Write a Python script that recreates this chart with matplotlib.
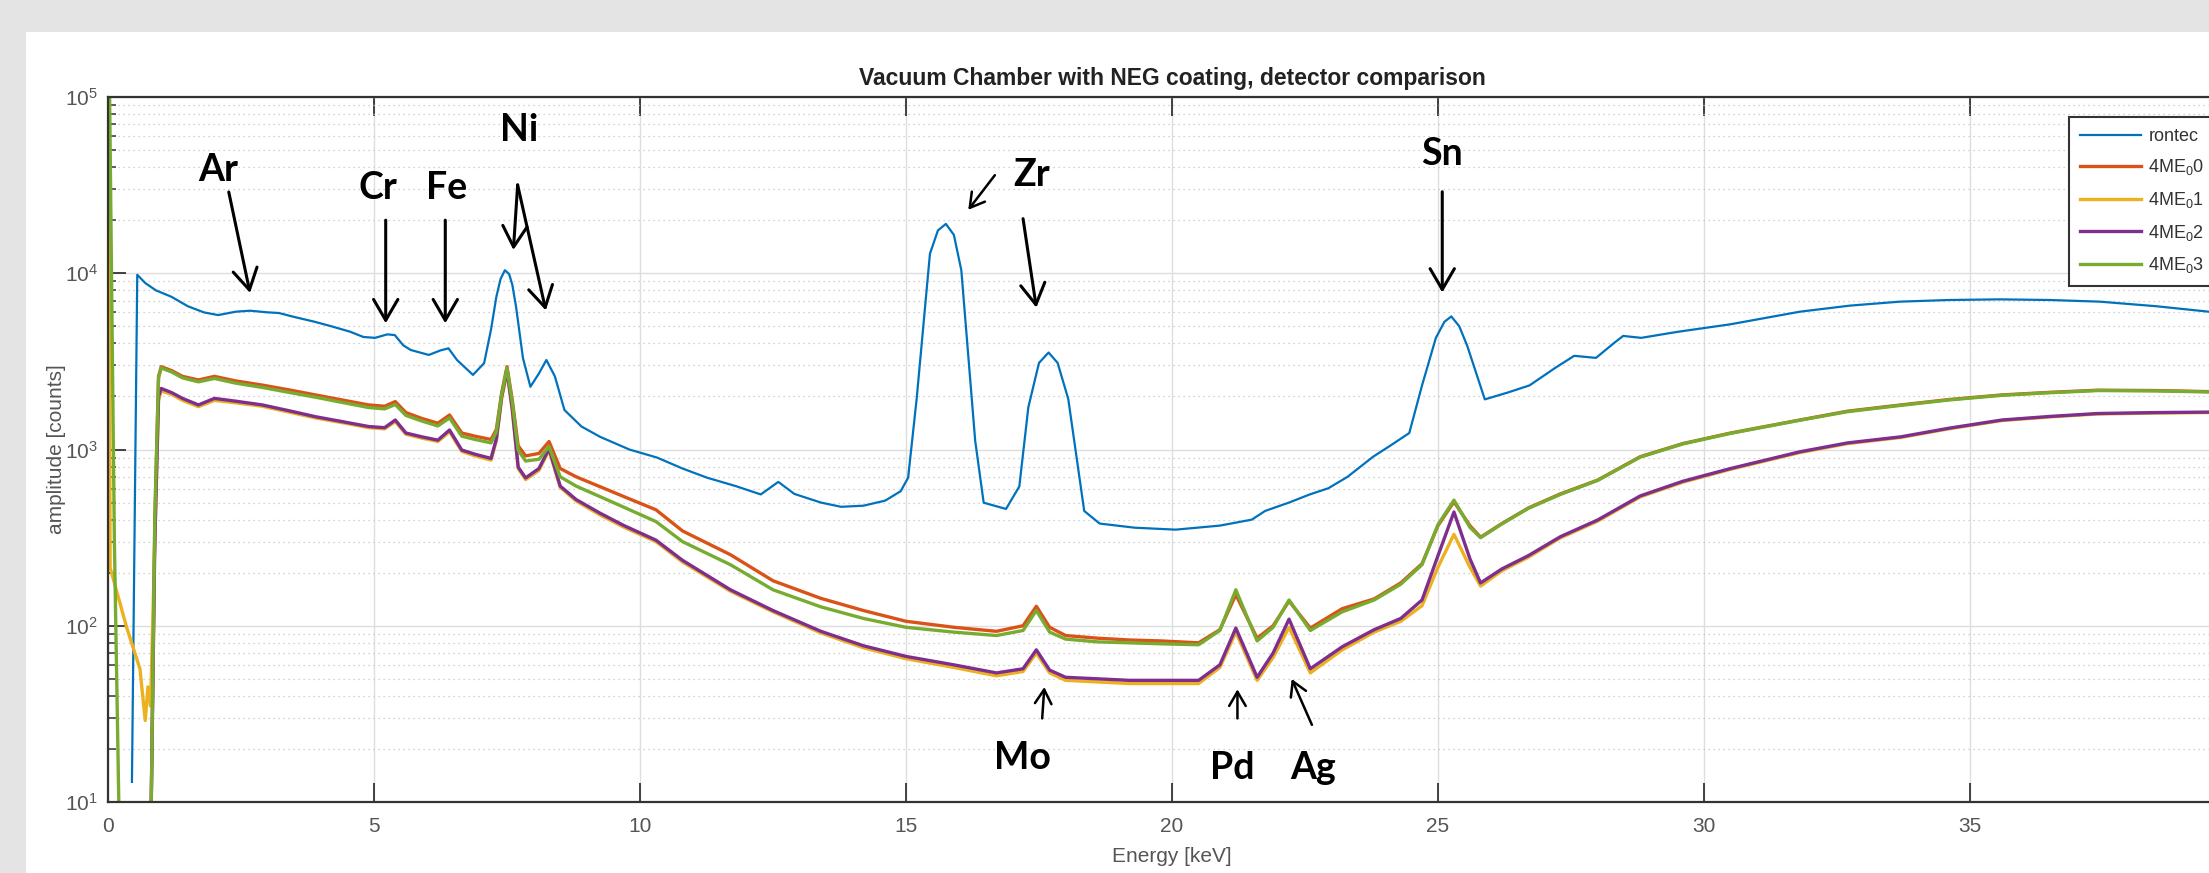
import matplotlib.pyplot as plt
from matplotlib.patches import Rectangle
from matplotlib.ticker import LogLocator, NullLocator, NullFormatter

plt.rcParams['font.family'] = ['Liberation Sans', 'DejaVu Sans']
plt.rcParams['mathtext.fontset'] = 'custom'
plt.rcParams['mathtext.rm'] = 'Liberation Sans'
plt.rcParams['mathtext.it'] = 'Liberation Sans:italic'

# --- data (energy in keV, amplitude in counts) ---
rontec_e = [0.45, 0.55, 0.7, 0.9, 1.19, 1.5, 1.8, 2.07, 2.4, 2.67, 3.0, 3.21, 3.5, 3.88,
            4.2, 4.55, 4.8, 5.02, 5.25, 5.39, 5.55, 5.69, 6.03, 6.25, 6.40, 6.56, 6.86,
            7.07, 7.20, 7.30, 7.38, 7.46, 7.54, 7.60, 7.67, 7.8, 7.94, 8.1, 8.24, 8.4,
            8.58, 8.9, 9.25, 9.8, 10.32, 10.8, 11.26, 11.8, 12.27, 12.6, 12.9, 13.4,
            13.78, 14.2, 14.61, 14.9, 15.04, 15.2, 15.45, 15.6, 15.75, 15.9, 16.04,
            16.3, 16.46, 16.88, 17.13, 17.30, 17.5, 17.68, 17.85, 18.05, 18.35, 18.64,
            19.3, 20.07, 20.9, 21.5, 21.75, 22.2, 22.59, 22.94, 23.3, 23.78, 24.1,
            24.46, 24.7, 24.96, 25.12, 25.25, 25.4, 25.55, 25.88, 26.3, 26.72, 27.2,
            27.56, 27.97, 28.3, 28.48, 28.82, 29.5, 30.49, 31.8, 32.74, 33.68, 34.6,
            35.56, 36.5, 37.44, 38.5, 39.49, 40.0]
rontec_v = [13, 9800, 8800, 8000, 7360, 6500, 6000, 5790, 6050, 6130, 6000, 5950, 5650, 5310,
            5000, 4660, 4350, 4300, 4500, 4460, 3900, 3670, 3440, 3650, 3750, 3220, 2650,
            3090, 4800, 7360, 9300, 10400, 9900, 8600, 6460, 3300, 2270, 2700, 3220, 2600,
            1675, 1350, 1180, 1000, 900, 780, 692, 620, 556, 655, 560, 500,
            473, 480, 513, 580, 692, 1935, 12900, 17500, 19050, 16500, 10400,
            1125, 499, 460, 617, 1740, 3100, 3550, 3100, 1935, 448, 380,
            360, 351, 370, 400, 448, 500, 556, 603, 700, 910, 1050,
            1240, 2310, 4300, 5300, 5690, 5000, 3870, 1925, 2100, 2310, 2900,
            3400, 3310, 4000, 4410, 4300, 4650, 5130, 6050, 6550, 6900, 7050,
            7110, 7050, 6900, 6500, 6050, 5850]

me_e = [0.80, 0.88, 0.95, 1.0, 1.2, 1.4, 1.7, 2.0, 2.4, 2.9, 3.4, 3.9, 4.4, 4.9, 5.2, 5.4,
        5.6, 5.9, 6.2, 6.42, 6.65, 6.9, 7.2, 7.3, 7.4, 7.5, 7.6, 7.71, 7.85, 8.1, 8.29,
        8.5, 8.8, 9.25, 9.7, 10.3, 10.8, 11.7, 12.5, 13.4, 14.2, 15.0, 15.9, 16.7, 17.2,
        17.45, 17.7, 18.0, 18.6, 19.2, 19.8, 20.5, 20.9, 21.2, 21.6, 21.9, 22.2, 22.6,
        23.2, 23.8, 24.3, 24.7, 25.0, 25.3, 25.6, 25.8, 26.2, 26.7, 27.3, 28.0, 28.8,
        29.6, 30.5, 31.8, 32.7, 33.7, 34.6, 35.6, 36.5, 37.4, 38.5, 39.5, 40.0]
me0_v = [5, 400, 2600, 2950, 2800, 2600, 2480, 2600, 2450, 2320, 2180, 2040, 1910, 1790, 1760, 1870,
         1620, 1500, 1410, 1570, 1240, 1190, 1140, 1300, 2100, 2950, 1900, 1050, 920, 950, 1110,
         780, 700, 615, 540, 455, 345, 253, 180, 143, 122, 106, 98, 93, 100,
         129, 98, 88, 85, 83, 82, 80, 95, 150, 85, 100, 138, 97,
         125, 142, 175, 225, 370, 505, 370, 318, 380, 466, 560, 670, 910,
         1080, 1240, 1470, 1650, 1790, 1920, 2040, 2110, 2170, 2160, 2130, 2120]
me1_v = [35, 300, 1900, 2150, 2050, 1900, 1750, 1900, 1840, 1760, 1630, 1510, 1420, 1330, 1310, 1440,
         1220, 1160, 1110, 1260, 975, 920, 870, 1120, 1950, 2750, 1650, 780, 675, 760, 990,
         610, 510, 425, 362, 300, 230, 157, 120, 91, 75, 65, 58, 52, 55,
         70, 54, 49, 48, 47, 47, 47, 58, 92, 49, 66, 98, 54,
         73, 92, 106, 130, 215, 330, 215, 168, 205, 245, 315, 392, 538,
         652, 772, 960, 1080, 1170, 1310, 1460, 1530, 1590, 1610, 1620, 1620]
me2_v = [5, 300, 2000, 2220, 2100, 1950, 1790, 1950, 1880, 1790, 1660, 1535, 1440, 1350, 1330, 1470,
         1240, 1180, 1130, 1290, 993, 940, 890, 1150, 2000, 2820, 1700, 795, 690, 780, 1010,
         620, 520, 435, 370, 306, 235, 160, 122, 93, 77, 67, 60, 54, 57,
         73, 56, 51, 50, 49, 49, 49, 60, 97, 51, 70, 109, 57,
         76, 95, 110, 140, 250, 442, 240, 175, 210, 250, 320, 398, 545,
         660, 780, 970, 1090, 1180, 1320, 1470, 1540, 1600, 1620, 1630, 1630]
me3_v = [5, 400, 2550, 2900, 2750, 2550, 2420, 2530, 2380, 2250, 2110, 1980, 1850, 1730, 1700, 1800,
         1560, 1450, 1360, 1510, 1190, 1140, 1090, 1260, 2050, 2900, 1850, 990, 860, 880, 1040,
         700, 620, 540, 470, 390, 300, 222, 160, 128, 110, 98, 92, 88, 94,
         122, 92, 84, 81, 80, 79, 78, 94, 160, 82, 98, 140, 94,
         120, 140, 172, 222, 375, 516, 362, 316, 378, 464, 556, 668, 905,
         1075, 1235, 1465, 1640, 1780, 1910, 2030, 2100, 2160, 2150, 2120, 2110]

# low-energy starts of the yellow and green traces
me1_start_e = [0.01, 0.04, 0.35, 0.6, 0.70, 0.75]
me1_start_v = [200000, 214, 98, 57, 29, 45]
me3_start_e = [0.02, 0.12, 0.22, 0.5]
me3_start_v = [200000, 300, 5, 5]

series_labels = ['rontec', '4ME$_0$0', '4ME$_0$1', '4ME$_0$2', '4ME$_0$3']
colors = ['#0072BD', '#D95319', '#EDB120', '#7E2F8E', '#77AC30']
x_ticks = [0, 5, 10, 15, 20, 25, 30, 35, 40]
# the 40 label falls outside the cropped screenshot
x_tick_labels = ['0', '5', '10', '15', '20', '25', '30', '35', '']

W, H = 2209, 873
fig = plt.figure(figsize=(W / 100, H / 100), dpi=100, facecolor='#e4e4e4')
fig.patches.append(Rectangle((26 / W, 0), 1, 1 - 32 / H, transform=fig.transFigure,
                             facecolor='white', edgecolor='none', zorder=-5))
# axes run to 40 keV, past the right edge of the screenshot
ax = fig.add_axes([108 / W, 1 - 802 / H, (2236 - 108) / W, (802 - 97) / H])
ax.set_zorder(2)

ax.plot(rontec_e, rontec_v, color=colors[0], lw=1.6, label=series_labels[0])
ax.plot(me_e, me0_v, color=colors[1], lw=2.4, label=series_labels[1])
ax.plot(me1_start_e + me_e, me1_start_v + me1_v, color=colors[2], lw=2.4, label=series_labels[2])
ax.plot(me_e, me2_v, color=colors[3], lw=2.4, label=series_labels[3])
ax.plot(me3_start_e + me_e, me3_start_v + me3_v, color=colors[4], lw=2.4, label=series_labels[4])

ax.set_yscale('log')
ax.set_xlim(0, 40)
ax.set_ylim(10, 1e5)
ax.set_xticks(x_ticks, labels=x_tick_labels)
ax.xaxis.set_minor_locator(NullLocator())
ax.yaxis.set_major_locator(LogLocator(base=10, numticks=10))
ax.yaxis.set_minor_locator(LogLocator(base=10, subs=range(2, 10), numticks=20))
ax.yaxis.set_minor_formatter(NullFormatter())

ax.grid(True, which='major', color='#dedede', lw=1.0)
ax.grid(True, which='minor', axis='y', color='#c4c4c4', lw=0.9, ls=(0, (1, 3)))
ax.set_axisbelow(True)

for s in ax.spines.values():
    s.set_color('#333333')
    s.set_linewidth(1.6)
ax.tick_params(which='both', direction='in', top=True, right=True, color='#333333',
               labelcolor='#555555', labelsize=15)
ax.tick_params(axis='x', which='major', length=14, width=1.3, pad=11)
ax.tick_params(axis='y', which='major', length=13, width=1.3, pad=7)
ax.tick_params(axis='y', which='minor', length=6, width=1.1)

fig.text(1172 / W, 1 - 78 / H, 'Vacuum Chamber with NEG coating, detector comparison',
         ha='center', va='center', fontsize=16.5, fontweight='bold', color='#222222')
fig.text(1172 / W, 1 - 857 / H, 'Energy [keV]', ha='center', va='center',
         fontsize=15, color='#555555')
fig.text(56 / W, 1 - 449 / H, 'amplitude [counts]', ha='center', va='center',
         rotation=90, fontsize=15, color='#555555')

leg = ax.legend(loc='upper left', bbox_to_anchor=(2069 / W, 1 - 117 / H),
                bbox_transform=fig.transFigure, borderaxespad=0, fontsize=13,
                handlelength=3.4, handletextpad=0.4, labelspacing=0.7, borderpad=0.6,
                fancybox=False, framealpha=1, edgecolor='#333333')
leg.get_frame().set_linewidth(1.5)
for t in leg.get_texts():
    t.set_color('#333333')

# element labels with arrows
label_font = dict(family=['Lato', 'DejaVu Sans'], fontweight='bold', fontsize=27,
                  color='black', ha='center', va='center')
big = dict(arrowstyle='->,head_length=0.6,head_width=0.35', lw=2.2, color='black',
           mutation_scale=25, shrinkA=0, shrinkB=0)
small = dict(arrowstyle='->,head_length=0.6,head_width=0.35', lw=1.8, color='black',
             mutation_scale=17, shrinkA=0, shrinkB=0)

labels = [('Ar', 2.07, 38500), ('Cr', 5.08, 30500), ('Fe', 6.37, 30500),
          ('Ni', 7.72, 65000), ('Zr', 17.36, 36000), ('Sn', 25.08, 47500),
          ('Mo', 17.19, 17.8), ('Pd', 21.14, 15.6), ('Ag', 22.65, 15.6)]
for name, x, y in labels:
    ax.text(x, y, name, **label_font)

big_arrows = [((2.27, 28900), (2.67, 7730)), ((5.22, 20000), (5.22, 5200)),
              ((6.34, 20000), (6.34, 5200)), ((7.70, 31700), (7.62, 13550)),
              ((7.70, 31700), (8.23, 6150)), ((17.2, 20400), (17.45, 6380)),
              ((25.08, 29000), (25.08, 7770))]
small_arrows = [((16.67, 36000), (16.17, 22900)), ((17.56, 29.8), (17.6, 44.9)),
                ((21.23, 29.8), (21.23, 43.6)), ((22.63, 27.4), (22.25, 49.9))]
for tail, head in big_arrows:
    ax.annotate('', xy=head, xytext=tail, arrowprops=big)
for tail, head in small_arrows:
    ax.annotate('', xy=head, xytext=tail, arrowprops=small)

fig.savefig('out.png', dpi=100, facecolor=fig.get_facecolor())
